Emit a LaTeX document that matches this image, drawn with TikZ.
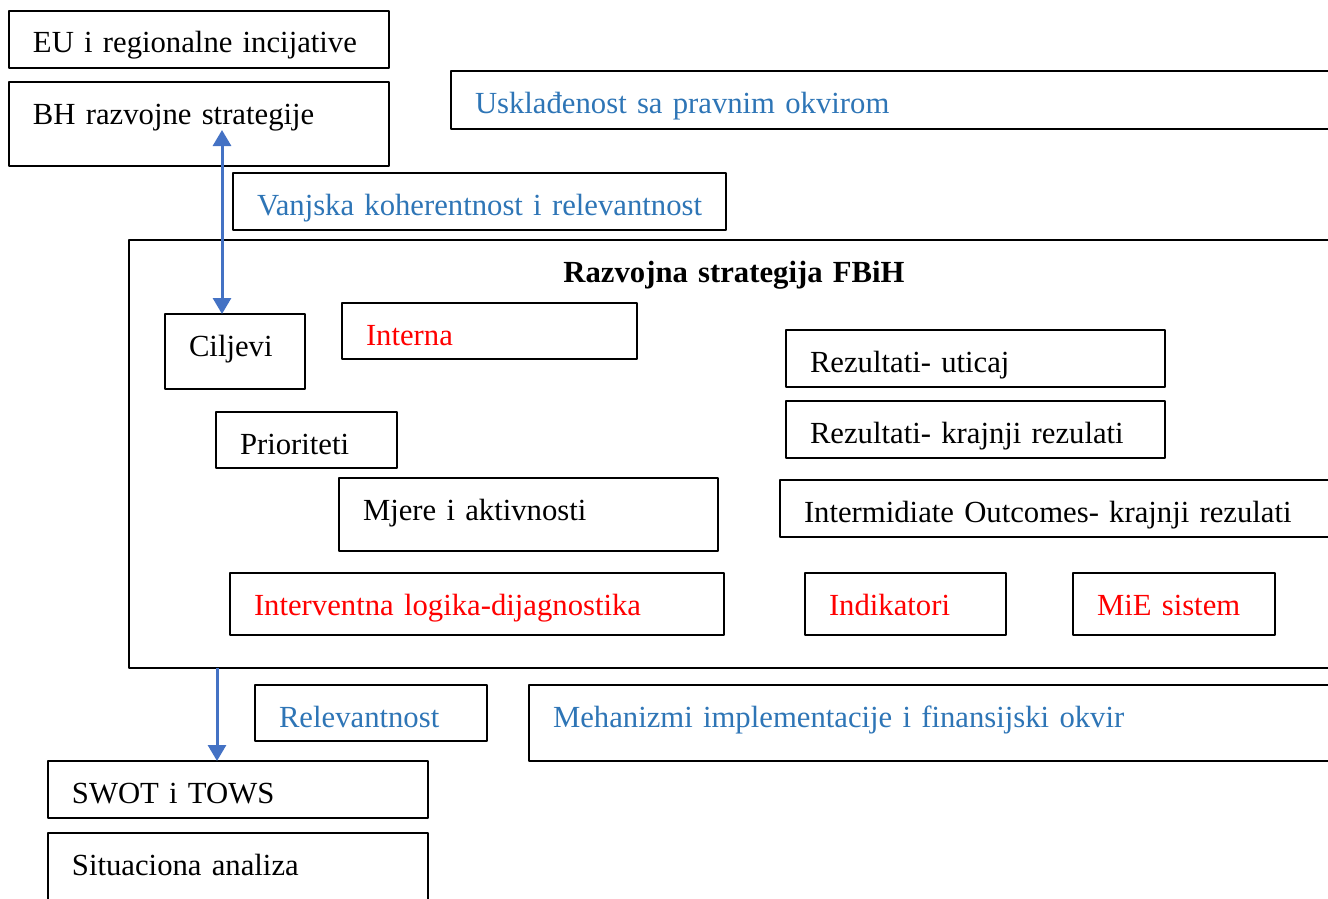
\documentclass[tikz,border=0pt]{standalone}
\usepackage{fontspec}
\setmainfont[WordSpace=0.85]{Liberation Serif}
\usetikzlibrary{arrows.meta}
\definecolor{wblue}{HTML}{2E75B6}
\definecolor{wred}{HTML}{FF0000}
\definecolor{warrow}{HTML}{4472C4}
\newcommand{\boxfont}{\fontsize{30.7}{37}\selectfont}
\tikzset{
  box/.style={draw, line width=2pt, anchor=north west, outer sep=0pt, inner xsep=0pt, inner ysep=0pt,
    text height=42pt, align=left, font=\boxfont, execute at begin node={\hspace*{24pt}}},
  frame/.style={draw, line width=2pt, anchor=north west, outer sep=0pt, inner xsep=24pt, inner ysep=0pt,
    text height=42pt, align=center, font=\boxfont\bfseries},
  arr/.style={warrow, line width=3pt, -{Triangle[width=18pt,length=16pt]}},
}
\begin{document}
\begin{tikzpicture}[x=1pt, y=-1pt, line join=round]
		\useasboundingbox (0,0) rectangle (1328,899);
		% links
		\node[box, text width=380pt, text depth=15pt] (eu) at (9,11) {EU i regionalne incijative};
		\node[box, text width=380pt, text depth=42pt] (bh) at (9,82) {BH razvojne strategije};
		\node[box, text width=900pt, text depth=16pt, text=wblue] (usk) at (451,71) {Usklađenost sa pravnim okvirom};
		\node[box, text width=493pt, text depth=15pt, text=wblue] (vanj) at (233,173) {Vanjska koherentnost i relevantnost};
		% strategija
		\node[frame, text width=1162pt, text depth=386pt] (fbih) at (129,240) {Razvojna strategija FBiH};
		\node[box, text width=140pt, text depth=33pt] (cilj) at (165,314) {Ciljevi};
		\node[box, text width=295pt, text depth=14pt, text=wred] (interna) at (342,303) {Interna};
		\node[box, text width=379pt, text depth=15pt] (uticaj) at (786,330) {Rezultati- uticaj};
		\node[box, text width=181pt, text depth=14pt] (prior) at (216,412) {Prioriteti};
		\node[box, text width=379pt, text depth=15pt] (krajnji) at (786,401) {Rezultati- krajnji rezulati};
		\node[box, text width=379pt, text depth=31pt] (mjere) at (339,478) {Mjere i aktivnosti};
		\node[box, text width=600pt, text depth=15pt] (outc) at (780,480) {Intermidiate Outcomes- krajnji rezulati};
		\node[box, text width=494pt, text depth=20pt, text=wred] (logika) at (230,573) {Interventna logika-dijagnostika};
		\node[box, text width=201pt, text depth=20pt, text=wred] (indik) at (805,573) {Indikatori};
		\node[box, text width=202pt, text depth=20pt, text=wred] (mie) at (1073,573) {MiE sistem};
		% ispod
		\node[box, text width=232pt, text depth=14pt, text=wblue] (relev) at (255,685) {Relevantnost};
		\node[box, text width=850pt, text depth=34pt, text=wblue] (mehan) at (529,685) {Mehanizmi implementacije i finansijski okvir};
		\node[box, text width=380pt, text depth=15pt] (swot) at (48,761) {SWOT i TOWS};
		\node[box, text width=380pt, text depth=58pt] (situ) at (48,833) {Situaciona analiza};
		% strelice
		\coordinate (up) at (222,130);
		\coordinate (dn) at (217,0);
		\draw[arr, {Triangle[width=18pt,length=16pt]}-{Triangle[width=18pt,length=16pt]}] (up) -- (up |- cilj.north);
		\draw[arr] (fbih.south -| dn) -- (swot.north -| dn);
\end{tikzpicture}
\end{document}
